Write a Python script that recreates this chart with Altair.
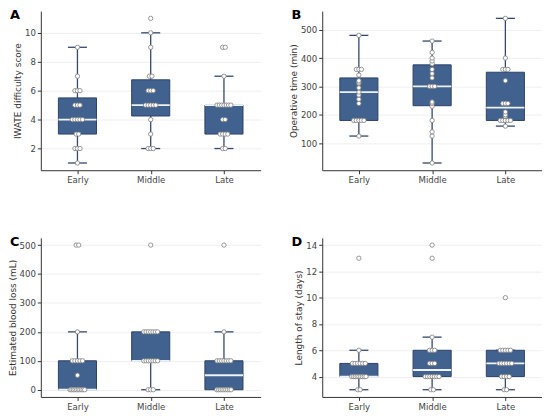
import altair as alt
import pandas as pd

groups = ["Early", "Middle", "Late"]
group_pos = [0, 1, 2]

# ---- Panel A: IWATE difficulty score ----
iwate_early = [1, 2, 2, 2, 3, 3, 4, 4, 4, 4, 4, 5, 5, 5, 6, 6, 6, 7, 9]
iwate_middle = [2, 2, 2, 3, 4, 5, 5, 5, 5, 5, 6, 6, 6, 7, 7, 9, 10, 11]
iwate_late = [2, 2, 3, 3, 3, 3, 4, 4, 5, 5, 5, 5, 5, 5, 5, 7, 9, 9]
iwate_q1 = [3, 4.25, 3]
iwate_median = [4, 5, 5]
iwate_q3 = [5.5, 6.75, 5]
iwate_low = [1, 2, 2]
iwate_high = [9, 10, 7]

# ---- Panel B: Operative time (min) ----
optime_early = [125, 180, 180, 180, 180, 180, 240, 255, 270, 280, 295, 310, 315, 320, 340, 360, 360, 360, 480]
optime_middle = [30, 125, 140, 180, 230, 240, 245, 300, 300, 300, 330, 345, 360, 380, 390, 400, 420, 460]
optime_late = [160, 180, 180, 180, 180, 180, 195, 200, 210, 240, 240, 240, 320, 360, 360, 360, 400, 540]
optime_q1 = [180, 232, 180]
optime_median = [280, 300, 225]
optime_q3 = [330, 376, 350]
optime_low = [125, 30, 160]
optime_high = [480, 460, 540]

# ---- Panel C: Estimated blood loss (mL) ----
ebl_early = [0, 0, 0, 0, 0, 0, 0, 0, 0, 0, 50, 100, 100, 100, 100, 100, 200, 500, 500]
ebl_middle = [0, 0, 0, 100, 100, 100, 100, 100, 100, 100, 200, 200, 200, 200, 200, 200, 200, 500]
ebl_late = [0, 0, 0, 0, 0, 0, 0, 0, 0, 100, 100, 100, 100, 100, 100, 100, 200, 500]
ebl_q1 = [0, 100, 0]
ebl_median = [0, 100, 50]
ebl_q3 = [100, 200, 100]
ebl_low = [0, 0, 0]
ebl_high = [200, 200, 200]

# ---- Panel D: Length of stay (days) ----
los_early = [3, 3, 4, 4, 4, 4, 4, 4, 4, 4, 4, 5, 5, 5, 5, 5, 5, 6, 13]
los_middle = [3, 3, 4, 4, 4, 4, 4, 4, 4, 5, 5, 5, 6, 6, 6, 7, 13, 14]
los_late = [3, 3, 4, 4, 4, 4, 5, 5, 5, 5, 5, 5, 6, 6, 6, 6, 6, 10]
los_q1 = [4, 4, 4]
los_median = [4, 4.5, 5]
los_q3 = [5, 6, 6]
los_low = [3, 3, 3]
los_high = [6, 7, 6]

BOX_FILL = "#41628e"
BOX_EDGE = "#2c4266"
WHISKER = "#33486a"
FONT = "DejaVu Sans"
W, H = 221, 160


def panel(letter, title, lists, q1, med, q3, lo, hi, domain, ticks):
    rows = []
    for g, p, vals in zip(groups, group_pos, lists):
        for v in vals:
            rows.append({"group": g, "pos": p, "value": v})
    pts = pd.DataFrame(rows)
    st = pd.DataFrame({"group": groups, "pos": group_pos, "q1": q1, "med": med,
                       "q3": q3, "lo": lo, "hi": hi})

    xscale = alt.Scale(domain=[-0.5, 2.5], nice=False, zero=False)
    xaxis = alt.Axis(values=group_pos, labelExpr=f"{groups}[datum.value]",
                     title=None, grid=False, labelAngle=0)
    yscale = alt.Scale(domain=domain, nice=False, zero=False)
    yaxis = alt.Axis(values=ticks, title=title, grid=True)

    base = alt.Chart(st).transform_calculate(
        bl="datum.pos - 0.26", br="datum.pos + 0.26",
        cl="datum.pos - 0.13", cr="datum.pos + 0.13")

    whisker = base.mark_rule(color=WHISKER, strokeWidth=1.3).encode(
        x=alt.X("pos:Q", scale=xscale, axis=xaxis),
        y=alt.Y("lo:Q", scale=yscale, axis=yaxis),
        y2="hi:Q")
    cap_lo = base.mark_rule(color=WHISKER, strokeWidth=1.3).encode(
        x=alt.X("cl:Q", scale=xscale, axis=xaxis), x2="cr:Q",
        y=alt.Y("lo:Q", scale=yscale, axis=yaxis))
    cap_hi = base.mark_rule(color=WHISKER, strokeWidth=1.3).encode(
        x=alt.X("cl:Q", scale=xscale, axis=xaxis), x2="cr:Q",
        y=alt.Y("hi:Q", scale=yscale, axis=yaxis))
    box = base.mark_bar(color=BOX_FILL, stroke=BOX_EDGE, strokeWidth=1).encode(
        x=alt.X("bl:Q", scale=xscale, axis=xaxis), x2="br:Q",
        y=alt.Y("q1:Q", scale=yscale, axis=yaxis), y2="q3:Q")
    median = base.mark_rule(color="#eef3f9", strokeWidth=1.8).encode(
        x=alt.X("bl:Q", scale=xscale, axis=xaxis), x2="br:Q",
        y=alt.Y("med:Q", scale=yscale, axis=yaxis))

    points = alt.Chart(pts).transform_window(
        rank="row_number()", groupby=["group", "value"]
    ).transform_joinaggregate(
        cnt="count()", groupby=["group", "value"]
    ).transform_calculate(
        jx="datum.pos + (datum.rank - (datum.cnt + 1) / 2) * min(0.035, 0.22 / datum.cnt)"
    ).mark_point(shape="circle", filled=False, fill="white", stroke="#7d7d7d",
                 strokeWidth=0.8, size=19, opacity=1).encode(
        x=alt.X("jx:Q", scale=xscale, axis=xaxis),
        y=alt.Y("value:Q", scale=yscale, axis=yaxis))

    label = alt.Chart(pd.DataFrame({"letter": [letter]})).mark_text(
        align="left", baseline="top", fontSize=13, fontWeight="bold",
        font=FONT, color="black").encode(
        text="letter:N", x=alt.value(-31), y=alt.value(-2))

    return alt.layer(whisker, cap_lo, cap_hi, box, median, points, label).properties(
        width=W, height=H)


pA = panel("A", "IWATE difficulty score", [iwate_early, iwate_middle, iwate_late],
           iwate_q1, iwate_median, iwate_q3, iwate_low, iwate_high,
           [0.5, 11.5], [2, 4, 6, 8, 10])
pB = panel("B", "Operative time (min)", [optime_early, optime_middle, optime_late],
           optime_q1, optime_median, optime_q3, optime_low, optime_high,
           [4.5, 565.5], [100, 200, 300, 400, 500])
pC = panel("C", "Estimated blood loss (mL)", [ebl_early, ebl_middle, ebl_late],
           ebl_q1, ebl_median, ebl_q3, ebl_low, ebl_high,
           [-25, 525], [0, 100, 200, 300, 400, 500])
pD = panel("D", "Length of stay (days)", [los_early, los_middle, los_late],
           los_q1, los_median, los_q3, los_low, los_high,
           [2.45, 14.55], [4, 6, 8, 10, 12, 14])

chart = alt.concat(pA, pB, pC, pD, columns=2,
                   spacing={"row": 51, "column": 29}).properties(
    padding=0
).configure_view(stroke=None).configure_axis(
    labelFont=FONT, labelFontSize=8.6, labelColor="#444444", labelPadding=2,
    titleFont=FONT, titleFontSize=9, titleFontWeight="normal", titleColor="#333333",
    titlePadding=2, domainColor="#333333", domainWidth=1, tickColor="#333333",
    tickSize=3.5, gridColor="#ebebeb", gridWidth=0.8
)

chart.save("out.html", embed_options={"renderer": "svg", "actions": False})
